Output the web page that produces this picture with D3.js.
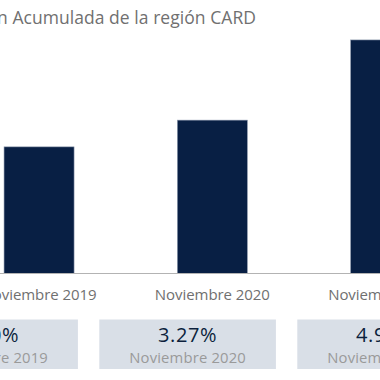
<!DOCTYPE html>
<html><head><meta charset="utf-8">
<script src="https://cdn.jsdelivr.net/npm/d3@7"></script>
<style>html,body{margin:0;padding:0;background:#fff;overflow:hidden}</style>
</head><body>
<svg id="c" width="380" height="380"></svg>
<script>
const title = "Inflación Acumulada de la región CARD";
const categories = ["Noviembre 2019", "Noviembre 2020", "Noviembre 2021"];
const values = [2.70, 3.27, 4.98];
const valueLabels = ["2.70%", "3.27%", "4.98%"];

const FONT = "'Open Sans', 'Noto Sans', sans-serif";
const svg = d3.select("#c");

// spread letters so a text matches the reference's (wide, Futura-like) width
function span(node, s, e) {
  return node.getEndPositionOfChar(e).x - node.getStartPositionOfChar(s).x;
}
function fitWidth(node, target, from, to) {
  const n = node.getNumberOfChars();
  const s = from || 0, e = (to === undefined) ? n - 1 : to;
  let ls = 0;
  for (let k = 0; k < 4; k++) {
    const w = span(node, s, e);
    ls += (target - w) / Math.max(1, e - s);
    node.setAttribute("letter-spacing", ls.toFixed(3));
  }
}

const y = d3.scaleLinear().domain([0, 5]).range([273.5, 39]);
const x = d3.scaleBand().domain(categories).range([-47.6, 472.3]).paddingInner(0.596).paddingOuter(0.298);
const xb = d3.scaleBand().domain(categories).range([-109.4, 484.6]).paddingInner(0.108).paddingOuter(0.054);

const t = svg.append("text").attr("x", 0).attr("y", 24)
  .attr("font-family", FONT).attr("font-size", 17.5).attr("fill", "#707070").text(title);
fitWidth(t.node(), 259, 8, 36);
t.attr("x", -3 - t.node().getStartPositionOfChar(8).x);

svg.selectAll("rect.bar").data(values).join("rect").attr("class", "bar")
  .attr("x", (d, i) => x(categories[i])).attr("width", x.bandwidth())
  .attr("y", d => y(d)).attr("height", d => y(0) - y(d))
  .attr("fill", "#081f44").attr("stroke", "#8d99ad").attr("stroke-width", 0.6);

const axis = svg.append("g").attr("transform", `translate(0,${y(0)})`)
  .call(d3.axisBottom(x).tickSize(0).tickPadding(16));
axis.select(".domain").attr("stroke", "#b3b3b3").attr("stroke-width", 1.2)
  .attr("d", "M-10,0H400");
axis.selectAll("text").attr("font-family", FONT).attr("font-size", 15).attr("fill", "#707070")
  .each(function () { fitWidth(this, 115); });

const boxes = svg.selectAll("g.box").data(categories).join("g").attr("class", "box");
boxes.append("rect").attr("x", d => xb(d)).attr("width", xb.bandwidth())
  .attr("y", 319.5).attr("height", 49.5).attr("fill", "#d9dfe7");
boxes.append("text").attr("x", d => xb(d) + xb.bandwidth() / 2).attr("y", 341.7)
  .attr("text-anchor", "middle").attr("font-family", FONT).attr("font-size", 20)
  .attr("fill", "#0c1f3d").text((d, i) => valueLabels[i])
  .each(function () { fitWidth(this, 59); });
boxes.append("text").attr("x", d => xb(d) + xb.bandwidth() / 2).attr("y", 363.3)
  .attr("text-anchor", "middle").attr("font-family", FONT).attr("font-size", 14.8)
  .attr("fill", "#9a9a9a").text(d => d)
  .each(function () { fitWidth(this, 116.7); });
</script>
</body></html>
